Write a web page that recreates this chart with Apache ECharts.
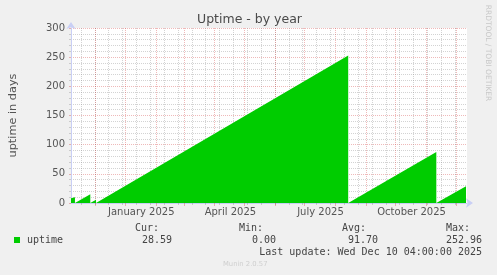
<!DOCTYPE html>
<html><head><meta charset="utf-8">
<script src="https://cdn.jsdelivr.net/npm/echarts@6/dist/echarts.min.js"></script>
<style>html,body{margin:0;padding:0;background:#f0f0f0;}#c{width:497px;height:275px;}</style>
</head><body><div id="c"></div>
<script>
// ---- data ----
const uptimeTimes = [
  '2024-11-07 00:00','2024-11-11 00:00','2024-11-11 00:00','2024-11-26 12:00','2024-11-26 12:00',
  '2024-11-28 06:00','2024-11-28 06:00','2024-12-02 06:00','2024-12-02 06:00',
  '2024-12-04 00:00','2025-08-14 00:00','2025-08-14 00:00',
  '2025-08-15 12:00','2025-11-11 00:00','2025-11-11 00:00',
  '2025-11-12 12:00','2025-12-11 00:00'
];
const uptimeValues = [
  8, 10, 0, 15, 0,
  0, 2, 5.5, 0,
  0, 252.96, 0,
  0, 87.5, 0,
  0, 28.59
];
const xStart = '2024-11-07 00:00';
const xEnd = '2025-12-12 00:00';
const monthLineDates = ['2024-12-01','2025-01-01','2025-02-01','2025-03-01','2025-04-01','2025-05-01',
  '2025-06-01','2025-07-01','2025-08-01','2025-09-01','2025-10-01','2025-11-01','2025-12-01'];
const minorLineDates = ['2024-11-17','2024-12-01','2024-12-15','2024-12-29','2025-01-12','2025-01-26',
  '2025-02-09','2025-02-23','2025-03-09','2025-03-23','2025-04-06','2025-04-20','2025-05-04','2025-05-18',
  '2025-06-01','2025-06-15','2025-06-29','2025-07-13','2025-07-27','2025-08-10','2025-08-24','2025-09-07',
  '2025-09-21','2025-10-05','2025-10-19','2025-11-02','2025-11-16','2025-11-30'];
const xLabelDates = ['2025-01-17','2025-04-17','2025-07-17','2025-10-17'];
const xLabelTexts = ['January 2025','April 2025','July 2025','October 2025'];
const yMin = 0, yMax = 300, yStep = 50;
const seriesName = 'uptime';
const statNames = ['Cur:','Min:','Avg:','Max:'];
const statValues = ['28.59','0.00','91.70','252.96'];
const lastUpdate = 'Last update: Wed Dec 10 04:00:00 2025';

// ---- helpers ----
function t(s){
  const [d,h] = s.split(' ');
  const [Y,M,D] = d.split('-').map(Number);
  const [hh,mm] = (h||'00:00').split(':').map(Number);
  return Date.UTC(Y,M-1,D,hh,mm);
}
const seriesData = uptimeTimes.map((s,i)=>[t(s), uptimeValues[i]]);
const labelTs = xLabelDates.map(t);

const RED = 'rgba(210,60,60,0.36)';
const GRAY = 'rgba(140,140,140,0.38)';
const AXIS = '#c9cff5';
const mono = '"DejaVu Sans Mono", monospace';
const sans = '"DejaVu Sans", sans-serif';

const chart = echarts.init(document.getElementById('c'), null, {renderer:'canvas'});
const statRightX = [159, 263, 366, 470];
const valRightX = [172, 276, 378, 482];
const graphics = [
  {type:'text', x:249.5, y:20, style:{text:'Uptime - by year', font:'12.5px '+sans, fill:'#4a4a4a', align:'center', verticalAlign:'middle'}},
  {type:'text', x:488, y:53, rotation:-Math.PI/2, style:{text:'RRDTOOL / TOBI OETIKER', font:'7.5px '+sans, fill:'#c8c8c8', align:'center', verticalAlign:'middle'}},
  {type:'text', x:223, y:264, style:{text:'Munin 2.0.57', font:'6.8px '+sans, fill:'#cfcfcf', align:'left', verticalAlign:'middle'}},
  {type:'text', x:482, y:252.5, style:{text:lastUpdate, font:'10px '+mono, fill:'#444', align:'right', verticalAlign:'middle'}}
];
statNames.forEach((n,i)=>{
  graphics.push({type:'text', x:statRightX[i], y:228, style:{text:n, font:'10px '+mono, fill:'#444', align:'right', verticalAlign:'middle'}});
  graphics.push({type:'text', x:valRightX[i], y:240, style:{text:statValues[i], font:'10px '+mono, fill:'#444', align:'right', verticalAlign:'middle'}});
});

chart.setOption({
  animation:false,
  backgroundColor:'#f0f0f0',
  grid:{left:67, right:30, top:28, bottom:72, show:true, backgroundColor:'#ffffff', borderWidth:0, containLabel:false},
  legend:{left:9, top:230, padding:5, itemWidth:6, itemHeight:6, icon:'rect', data:[seriesName],
    textStyle:{fontFamily:'DejaVu Sans Mono', fontSize:10, color:'#444', padding:[0,0,0,2]}},
  xAxis:[
    {type:'value', min:t(xStart), max:t(xEnd), position:'bottom',
      axisLine:{show:false}, axisLabel:{show:false},
      axisTick:{show:true, length:2, customValues:minorLineDates.map(t), lineStyle:{color:GRAY}},
      splitLine:{show:true, lineStyle:{color:GRAY, type:[1,1], width:1}}},
    {type:'value', min:t(xStart), max:t(xEnd), position:'bottom',
      axisLine:{show:true, lineStyle:{color:AXIS}, symbol:['none','arrow'], symbolSize:[7,7], symbolOffset:[0,6]},
      axisTick:{show:true, length:3, customValues:monthLineDates.map(t), lineStyle:{color:RED}},
      axisLabel:{show:true, customValues:labelTs, margin:4, fontFamily:'DejaVu Sans', fontSize:10, color:'#555',
        formatter:(v)=>{let bi=0,bd=Infinity;labelTs.forEach((x,i)=>{const d=Math.abs(x-v);if(d<bd){bd=d;bi=i;}});return xLabelTexts[bi];}},
      splitLine:{show:true, lineStyle:{color:RED, type:[1,1], width:1}}}
  ],
  yAxis:{type:'value', min:yMin, max:yMax, interval:yStep,
    name:'uptime in days', nameLocation:'middle', nameGap:52, nameRotate:90,
    nameTextStyle:{fontFamily:'DejaVu Sans', fontSize:11.3, color:'#555'},
    axisLine:{show:true, lineStyle:{color:AXIS}, symbol:['none','arrow'], symbolSize:[7,7], symbolOffset:[0,6]},
    axisTick:{show:true, length:2, lineStyle:{color:RED}},
    minorTick:{show:true, splitNumber:5, length:2, lineStyle:{color:GRAY}},
    axisLabel:{margin:6, fontFamily:'DejaVu Sans', fontSize:10, color:'#555'},
    splitLine:{show:true, lineStyle:{color:RED, type:[1,1], width:1}},
    minorSplitLine:{show:true, lineStyle:{color:GRAY, type:[1,1], width:1}}},
  series:[{name:seriesName, type:'line', xAxisIndex:1, data:seriesData, symbol:'none',
    itemStyle:{color:'#00cc00'}, lineStyle:{width:0, color:'#00cc00'},
    areaStyle:{color:'#00cc00', opacity:1}}],
  graphic:graphics
});
</script></body></html>
